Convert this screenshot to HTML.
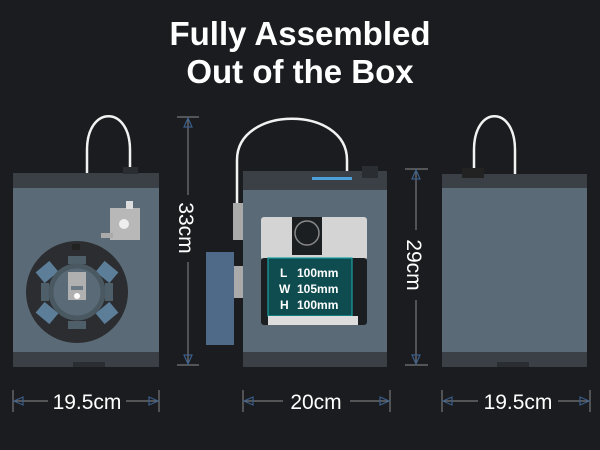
<!DOCTYPE html>
<html><head><style>
html,body{margin:0;padding:0;background:#1a1c1f;}
svg{display:block}
text{font-family:"Liberation Sans",sans-serif;}
</style></head><body>
<svg width="600" height="450" viewBox="0 0 600 450" xmlns="http://www.w3.org/2000/svg">
<rect width="600" height="450" fill="#1a1c1f"/>
<text x="300" y="45" text-anchor="middle" fill="#fff" font-size="33" font-weight="bold">Fully Assembled</text>
<text x="300" y="83" text-anchor="middle" fill="#fff" font-size="33" font-weight="bold">Out of the Box</text>

<!-- left printer -->
<path d="M87 174 L87 150 C87 105 130 105 130 150 L130 203" fill="none" stroke="#f2f2f2" stroke-width="2.5"/>
<rect x="13" y="173" width="146" height="16" fill="#3b4046"/>
<rect x="123" y="167" width="15" height="7" fill="#2a2d31"/>
<rect x="13" y="188" width="146" height="164" fill="#5a6b77"/>
<rect x="13" y="352" width="146" height="15" fill="#3b4046"/>
<rect x="73" y="362" width="32" height="5" fill="#2a2d31"/>
<rect x="110" y="208" width="30" height="32" fill="#b8b8b8"/>
<rect x="126" y="201" width="7" height="8" fill="#ddd"/>
<circle cx="124" cy="224" r="5" fill="#eee"/>
<rect x="101" y="233" width="12" height="5" fill="#aaa"/>
<circle cx="77" cy="292" r="51" fill="#2b2d30"/>
<g fill="#5c7e99">
<rect x="38" y="265" width="18" height="14" transform="rotate(-40 47 272)"/>
<rect x="98" y="265" width="18" height="14" transform="rotate(40 107 272)"/>
<rect x="38" y="306" width="18" height="14" transform="rotate(40 47 313)"/>
<rect x="98" y="306" width="18" height="14" transform="rotate(-40 107 313)"/>
</g>
<g fill="#4f5f6a">
<rect x="68" y="256" width="18" height="8"/>
<rect x="68" y="321" width="18" height="8"/>
<rect x="41" y="283" width="8" height="18"/>
<rect x="105" y="283" width="8" height="18"/>
</g>
<circle cx="77" cy="292" r="26" fill="#5a6b77" stroke="#4a5862" stroke-width="5"/>
<rect x="68" y="272" width="18" height="28" fill="#b0b0b0"/>
<rect x="71" y="286" width="12" height="4" fill="#6b7a85"/>
<circle cx="77" cy="296" r="3" fill="#fff"/>
<rect x="72" y="244" width="8" height="6" fill="#222"/>

<!-- 33cm dim -->
<g stroke="#777" stroke-width="1.2">
<line x1="177" y1="117" x2="199" y2="117"/><line x1="177" y1="365" x2="199" y2="365"/>
<line x1="188" y1="118" x2="188" y2="195"/><line x1="188" y1="262" x2="188" y2="364"/>
</g>
<path d="M184 127 L188 118 L192 127Z M184 355 L188 364 L192 355Z" fill="none" stroke="#3a5d8a" stroke-width="1.2"/>
<text x="0" y="0" transform="translate(179 228) rotate(90)" text-anchor="middle" fill="#fff" font-size="21">33cm</text>

<!-- middle printer -->
<path d="M237 203 L237 160 C237 105 347 105 347 160 L347 172" fill="none" stroke="#f2f2f2" stroke-width="2.5"/>
<rect x="233" y="203" width="10" height="37" fill="#aaa"/>
<rect x="233" y="266" width="10" height="32" fill="#aaa"/>
<rect x="206" y="252" width="28" height="93" fill="#4f6a88"/>
<rect x="243" y="171" width="144" height="19" fill="#3b4046"/>
<rect x="312" y="177" width="40" height="3" fill="#4ca0dc"/>
<rect x="362" y="166" width="16" height="12" fill="#2a2d31"/>
<rect x="243" y="190" width="144" height="162" fill="#5a6b77"/>
<rect x="243" y="352" width="144" height="15" fill="#3b4046"/>
<rect x="261" y="217" width="106" height="43" rx="3" fill="#d4d4d4"/>
<rect x="261" y="258" width="106" height="67" rx="3" fill="#1c1f22"/>
<rect x="268" y="258" width="84" height="58" fill="#0f4c50" stroke="#19a0a0" stroke-width="1.2"/>
<rect x="268" y="316" width="90" height="9" fill="#ddd"/>
<rect x="292" y="217" width="30" height="38" fill="#1c1f22"/>
<circle cx="307" cy="233" r="12" fill="none" stroke="#888" stroke-width="1.5"/>
<text x="280" y="277" fill="#fff" font-size="12" font-weight="bold">L</text>
<text x="279" y="293" fill="#fff" font-size="12" font-weight="bold">W</text>
<text x="280" y="309" fill="#fff" font-size="12" font-weight="bold">H</text>
<text x="297" y="277" fill="#fff" font-size="12" font-weight="bold">100mm</text>
<text x="297" y="293" fill="#fff" font-size="12" font-weight="bold">105mm</text>
<text x="297" y="309" fill="#fff" font-size="12" font-weight="bold">100mm</text>

<!-- 29cm dim -->
<g stroke="#777" stroke-width="1.2">
<line x1="405" y1="169" x2="428" y2="169"/><line x1="405" y1="365" x2="428" y2="365"/>
<line x1="416" y1="170" x2="416" y2="230"/><line x1="416" y1="300" x2="416" y2="364"/>
</g>
<path d="M412 179 L416 170 L420 179Z M412 355 L416 364 L420 355Z" fill="none" stroke="#3a5d8a" stroke-width="1.2"/>
<text x="0" y="0" transform="translate(407 265) rotate(90)" text-anchor="middle" fill="#fff" font-size="21">29cm</text>

<!-- right printer -->
<path d="M474 172 L474 150 C474 105 515 105 515 150 L515 174" fill="none" stroke="#f2f2f2" stroke-width="2.5"/>
<rect x="442" y="174" width="145" height="15" fill="#3b4046"/>
<rect x="462" y="168" width="22" height="10" fill="#222"/>
<rect x="442" y="188" width="145" height="164" fill="#5a6b77"/>
<rect x="442" y="352" width="145" height="15" fill="#3b4046"/>
<rect x="497" y="362" width="32" height="5" fill="#2a2d31"/>

<!-- bottom dims -->
<g stroke="#777" stroke-width="1.2">
<line x1="13" y1="390" x2="13" y2="412"/><line x1="159" y1="390" x2="159" y2="412"/>
<line x1="14" y1="401" x2="48" y2="401"/><line x1="126" y1="401" x2="158" y2="401"/>
<line x1="243" y1="390" x2="243" y2="412"/><line x1="390" y1="390" x2="390" y2="412"/>
<line x1="244" y1="401" x2="283" y2="401"/><line x1="350" y1="401" x2="389" y2="401"/>
<line x1="442" y1="390" x2="442" y2="412"/><line x1="590" y1="390" x2="590" y2="412"/>
<line x1="443" y1="401" x2="478" y2="401"/><line x1="558" y1="401" x2="589" y2="401"/>
</g>
<path d="M23 397 L14 401 L23 405Z M149 397 L158 401 L149 405Z M253 397 L244 401 L253 405Z M380 397 L389 401 L380 405Z M452 397 L443 401 L452 405Z M580 397 L589 401 L580 405Z" fill="none" stroke="#3a5d8a" stroke-width="1.2"/>
<text x="87" y="409" text-anchor="middle" fill="#fff" font-size="21">19.5cm</text>
<text x="316" y="409" text-anchor="middle" fill="#fff" font-size="21">20cm</text>
<text x="518" y="409" text-anchor="middle" fill="#fff" font-size="21">19.5cm</text>
</svg>
</body></html>
